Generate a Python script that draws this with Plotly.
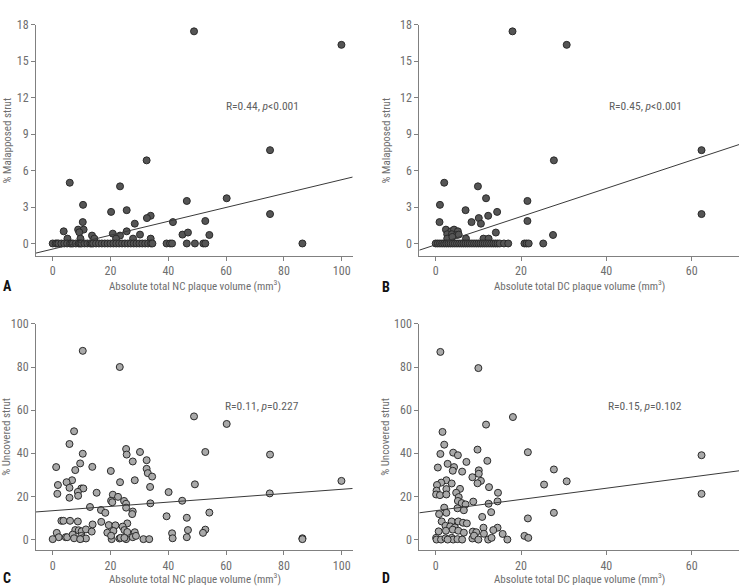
import plotly.graph_objects as go

# ---------------- data ----------------
# Panel A: NC plaque volume vs % malapposed strut
A_x = [48.9, 99.9, 32.5, 75.2, 5.9, 23.3, 60.2, 10.5, 46.4, 20.2, 25.6, 75.2, 33.9, 32.6,
       52.8, 41.6, 10.4, 28.4, 3.8, 8.8, 10.7, 9.2, 13.6, 20.8, 25.6, 23.3, 30.2, 44.9,
       46.8, 54.2, 5.1, 9.6, 14.4, 21.9, 27.8, 33.9]
A_y = [17.46, 16.35, 6.84, 7.68, 5.0, 4.7, 3.72, 3.18, 3.5, 2.6, 2.74, 2.42, 2.28, 2.09,
       1.85, 1.76, 1.76, 1.63, 1.0, 1.14, 1.14, 0.92, 0.65, 0.81, 1.0, 0.65, 0.73, 0.73,
       0.9, 0.7, 0.4, 0.4, 0.4, 0.4, 0.4, 0.4]
A_x_zero = [0, 1, 1.5, 2, 3, 4, 5, 6, 6.5, 7, 8, 9, 9.5, 10, 11, 12, 13, 13.5, 14, 15, 16,
            17, 18, 19, 20, 21, 22, 23, 24, 25, 26, 27, 28, 29, 30, 31, 32, 33, 34, 34.5,
            39.4, 40.6, 41.3, 46.4, 49.2, 52.1, 52.8, 86.4]

# Panel B: DC plaque volume vs % malapposed strut
B_x = [18.0, 30.7, 27.7, 62.3, 2.0, 9.9, 11.8, 21.5, 1.0, 7.0, 14.4, 62.3, 12.3, 10.1,
       21.5, 0.9, 8.4, 10.6, 2.4, 3.6, 4.3, 5.2, 2.7, 3.8, 4.9, 5.4, 2.7, 3.9, 14.1, 27.5,
       7.1, 11.2, 12.4]
B_y = [17.46, 16.35, 6.84, 7.68, 5.0, 4.7, 3.72, 3.5, 3.18, 2.74, 2.6, 2.42, 2.28, 2.09,
       1.85, 1.76, 1.76, 1.63, 1.14, 1.0, 1.14, 1.0, 0.76, 0.76, 0.7, 0.73, 0.4, 0.54, 0.9,
       0.7, 0.4, 0.4, 0.4]
B_x_zero = [0, 0.5, 1, 1.5, 2, 2.5, 3, 3.5, 4, 4.5, 5, 5.5, 6, 6.5, 7, 7.5, 8, 8.5, 9, 9.5,
            10, 10.5, 11, 11.5, 12, 12.5, 13, 13.5, 14, 14.5, 15, 16, 17, 20.8, 21.3, 21.8,
            25.2]

# Panel C: NC plaque volume vs % uncovered strut
C_x = [10.4, 23.2, 48.9, 60.2, 7.4, 5.8, 25.4, 30.2, 52.8, 10.4, 25.6, 75.2, 32.5, 27.7,
       9.5, 1.2, 13.7, 32.5, 32.9, 20.1, 34.4, 7.8, 28.4, 99.9, 6.7, 4.8, 23.3, 49.2,
       1.8, 5.8, 9.9, 10.6, 33.7, 8.7, 8.8, 1.6, 15.2, 40.1, 20.8, 22.6, 20.2, 20.6, 24.7,
       44.8, 5.8, 25.4, 33.8, 75.1, 12.9, 25.4, 16.7, 18.2, 27.7, 27.5, 54.2, 39.4, 46.4,
       3.0, 3.7, 6.0, 8.7, 16.8, 19.4, 21.7, 25.8, 13.8, 24.2, 7.8, 9.0, 10.0, 11.5, 13.5,
       18.9, 21.0, 24.8, 25.8, 28.4, 46.8, 52.8, 52.0, 41.3, 1.4, 2.1, 4.5, 5.0, 6.9, 7.4,
       9.9, 10.4, 11.5, 9.5, 20.4, 23.1, 23.5, 25.4, 27.7, 28.8, 31.4, 33.4, 41.5, 46.4,
       86.4, 86.4, 0.0, 20.2, 24.8]
C_y = [87.5, 80.0, 57.1, 53.6, 50.2, 44.3, 42.0, 40.6, 40.6, 39.8, 39.4, 39.4, 36.8, 36.2,
       35.3, 33.6, 33.7, 32.8, 30.8, 31.8, 29.2, 32.2, 27.5, 27.2, 27.5, 26.6, 26.6, 25.6,
       25.3, 24.0, 23.7, 23.7, 24.4, 22.1, 20.3, 21.2, 21.7, 22.0, 20.8, 19.8, 18.0, 17.3,
       17.9, 18.0, 19.4, 16.6, 16.8, 21.4, 15.1, 14.8, 13.7, 12.4, 13.0, 11.8, 12.5, 10.8,
       10.1, 8.7, 8.7, 8.7, 8.4, 8.2, 6.7, 6.6, 7.5, 7.0, 6.0, 4.4, 4.3, 3.8, 4.7, 3.7, 3.2,
       4.0, 4.4, 3.5, 3.4, 4.4, 4.6, 3.1, 2.9, 3.1, 1.1, 1.1, 1.1, 2.3, 0.6, 1.7, 0.6, 0.5,
       0.2, 0.2, 0.5, 0.8, 0.2, 1.1, 1.7, 0.2, 0.2, 0.6, 1.1, 0.6, 0.2, 0.2, 1.8, 0.8]

# Panel D: DC plaque volume vs % uncovered strut
D_x = [1.1, 10.0, 18.1, 11.8, 1.6, 2.0, 9.8, 21.6, 4.1, 1.1, 5.2, 62.3, 12.1, 7.2, 2.8,
       4.3, 0.5, 27.7, 10.1, 4.0, 6.2, 10.1, 8.6, 30.7, 10.6, 2.5, 1.3, 3.75, 9.8, 25.4,
       0.3, 12.5, 5.7, 2.5, 0.2, 4.8, 14.6, 62.3, 0.1, 1.0, 2.5, 5.4, 5.2, 8.8, 14.5, 6.1,
       7.0, 12.4, 2.0, 5.1, 6.6, 2.5, 0.8, 13.0, 27.7, 10.9, 21.6, 1.4, 3.75, 5.3, 6.4,
       7.3, 2.3, 3.4, 4.5, 11.2, 14.5, 0.7, 2.4, 4.0, 5.3, 6.6, 8.7, 9.5, 11.3, 13.5, 15.7,
       0.1, 0.2, 1.25, 2.3, 3.75, 4.1, 5.1, 6.2, 8.6, 9.0, 10.0, 12.3, 13.1, 16.8, 20.8,
       21.7, 2.8]
D_y = [87.0, 79.5, 56.8, 53.3, 49.9, 44.0, 41.7, 40.5, 40.3, 39.7, 39.1, 39.1, 36.5, 36.0,
       35.1, 33.6, 33.4, 32.5, 32.1, 31.9, 31.5, 30.5, 28.9, 27.0, 27.2, 27.5, 26.4, 26.0,
       26.1, 25.5, 25.3, 24.3, 23.5, 23.4, 22.7, 21.7, 21.7, 21.2, 20.9, 20.6, 20.9, 19.7,
       17.9, 17.6, 17.7, 16.9, 16.3, 16.6, 14.8, 14.5, 13.6, 12.4, 11.8, 12.7, 12.4, 10.5,
       9.8, 8.4, 8.4, 8.4, 7.8, 7.5, 6.4, 6.1, 5.6, 5.5, 5.5, 3.8, 4.1, 4.6, 4.1, 3.2, 3.7,
       3.4, 2.7, 4.4, 2.6, 0.8, 0.0, 0.0, 0.6, 0.8, 0.0, 0.2, 0.0, 0.5, 1.8, 0.0, 0.0, 0.8,
       0.0, 1.7, 0.8, 0.0]

# regression lines: (intercept, slope)
FIT_A = (-0.46, 0.0571)
FIT_B = (-0.105, 0.116)
FIT_C = (13.38, 0.0993)
FIT_D = (13.4, 0.26)

ANNOT = {
    "A": "R=0.44, <i>p</i>&lt;0.001",
    "B": "R=0.45, <i>p</i>&lt;0.001",
    "C": "R=0.11, <i>p</i>=0.227",
    "D": "R=0.15, <i>p</i>=0.102",
}
X_TITLE_NC = "Absolute total NC plaque volume (mm<sup>3</sup>)"
X_TITLE_DC = "Absolute total DC plaque volume (mm<sup>3</sup>)"
Y_TITLE_MAL = "% Malapposed strut"
Y_TITLE_UNC = "% Uncovered strut"

X_TICKS_NC = [0, 20, 40, 60, 80, 100]
X_TICKS_DC = [0, 20, 40, 60]
Y_TICKS_MAL = [0, 3, 6, 9, 12, 15, 18]
Y_TICKS_UNC = [0, 20, 40, 60, 80, 100]

# ---------------- layout geometry ----------------
W, H = 740, 586
def px_x(p):
    return p / W
def px_y(p):
    return 1 - p / H

XR_NC = [-5.78, 103.8]
XR_DC = [-3.84, 71.08]
YR_MAL = [-1.03, 18]
YR_UNC = [-5.04, 100]

DOM_X_L = [px_x(36), px_x(352.7)]
DOM_X_R = [px_x(419.3), px_x(739)]
DOM_Y_T = [px_y(252), px_y(18)]
DOM_Y_B = [px_y(550), px_y(320.7)]

FAM = "Roboto Condensed, Roboto, sans-serif"
TXT = "#6e6e6e"
TICK_FONT = dict(family=FAM, size=12, color=TXT)
TITLE_FONT = dict(family=FAM, size=11, color=TXT)
AXCOL = "#808080"

fig = go.Figure()

panels = [
    ("A", "x", "y", A_x + A_x_zero, A_y + [0] * len(A_x_zero), FIT_A, XR_NC, "#555555"),
    ("B", "x2", "y2", B_x + B_x_zero, B_y + [0] * len(B_x_zero), FIT_B, XR_DC, "#555555"),
    ("C", "x3", "y3", C_x, C_y, FIT_C, XR_NC, "#a9a9a9"),
    ("D", "x4", "y4", D_x, D_y, FIT_D, XR_DC, "#a9a9a9"),
]

for name, xa, ya, xs, ys, fit, xr, col in panels:
    fig.add_trace(go.Scatter(
        x=xs, y=ys, mode="markers", xaxis=xa, yaxis=ya, showlegend=False,
        marker=dict(size=7, color=col, line=dict(color="#2a2a2a", width=1)),
        cliponaxis=False,
    ))
    b0, b1 = fit
    fig.add_trace(go.Scatter(
        x=[xr[0], xr[1]], y=[b0 + b1 * xr[0], b0 + b1 * xr[1]], mode="lines",
        xaxis=xa, yaxis=ya, showlegend=False,
        line=dict(color="#3a3a3a", width=1),
    ))

def axis(domain, rng, ticks, anchor):
    return dict(domain=domain, range=rng, tickvals=ticks, anchor=anchor,
                showgrid=False, zeroline=False, showline=True, linecolor=AXCOL,
                linewidth=1, ticks="outside", ticklen=4, tickcolor=AXCOL,
                tickfont=TICK_FONT, fixedrange=True)

annotations = []
def ann(text, x, y, **kw):
    d = dict(text=text, x=x, y=y, xref="paper", yref="paper", showarrow=False,
             xanchor="center", yanchor="middle")
    d.update(kw)
    annotations.append(d)

# panel letters
LETTER_FONT = dict(family=FAM, size=14, color="#111111")
ann("<b>A</b>", px_x(7), px_y(282), font=LETTER_FONT)
ann("<b>B</b>", px_x(386), px_y(283), font=LETTER_FONT)
ann("<b>C</b>", px_x(7), px_y(578), font=LETTER_FONT)
ann("<b>D</b>", px_x(386), px_y(578), font=LETTER_FONT)

# x titles
ann(X_TITLE_NC, px_x(195), px_y(282), font=TITLE_FONT)
ann(X_TITLE_DC, px_x(579), px_y(282), font=TITLE_FONT)
ann(X_TITLE_NC, px_x(195), px_y(578.5), font=TITLE_FONT)
ann(X_TITLE_DC, px_x(579), px_y(578.5), font=TITLE_FONT)

# y titles
ann(Y_TITLE_MAL, px_x(7), px_y(135), font=TITLE_FONT, textangle=-90)
ann(Y_TITLE_MAL, px_x(386), px_y(135), font=TITLE_FONT, textangle=-90)
ann(Y_TITLE_UNC, px_x(7), px_y(435), font=TITLE_FONT, textangle=-90)
ann(Y_TITLE_UNC, px_x(386), px_y(435), font=TITLE_FONT, textangle=-90)

# stats
ANN_FONT = dict(family=FAM, size=11.5, color="#606060")
ann(ANNOT["A"], px_x(262), px_y(100), font=ANN_FONT)
ann(ANNOT["B"], px_x(645), px_y(100), font=ANN_FONT)
ann(ANNOT["C"], px_x(262), px_y(403.7), font=ANN_FONT)
ann(ANNOT["D"], px_x(645), px_y(403.7), font=ANN_FONT)

fig.update_layout(
    width=W, height=H, margin=dict(l=0, r=0, t=0, b=0),
    paper_bgcolor="white", plot_bgcolor="white",
    xaxis=axis(DOM_X_L, XR_NC, X_TICKS_NC, "y"),
    yaxis=axis(DOM_Y_T, YR_MAL, Y_TICKS_MAL, "x"),
    xaxis2=axis(DOM_X_R, XR_DC, X_TICKS_DC, "y2"),
    yaxis2=axis(DOM_Y_T, YR_MAL, Y_TICKS_MAL, "x2"),
    xaxis3=axis(DOM_X_L, XR_NC, X_TICKS_NC, "y3"),
    yaxis3=axis(DOM_Y_B, YR_UNC, Y_TICKS_UNC, "x3"),
    xaxis4=axis(DOM_X_R, XR_DC, X_TICKS_DC, "y4"),
    yaxis4=axis(DOM_Y_B, YR_UNC, Y_TICKS_UNC, "x4"),
    annotations=annotations,
)

fig.write_html("out.html", config={"displayModeBar": False})
